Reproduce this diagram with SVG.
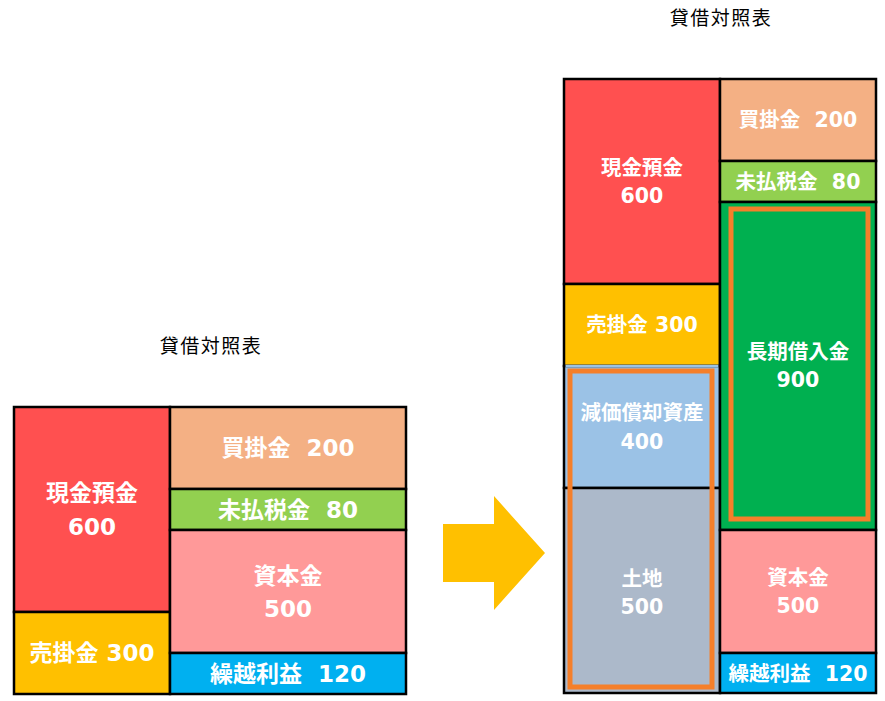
<svg xmlns="http://www.w3.org/2000/svg" width="885" height="701" viewBox="0 0 885 701">
<style>
.cell{stroke:#000;stroke-width:2.5}
.t{font-family:"DejaVu Sans","Noto Sans CJK JP",sans-serif;font-weight:bold;fill:#fff;text-anchor:middle;white-space:pre}
.big{font-size:23px}
.sm{font-size:20.5px}
.title{font-family:"Noto Sans CJK JP",sans-serif;font-size:19px;letter-spacing:1.5px;fill:#000;text-anchor:middle}
.hl{fill:none;stroke:#F57F2A;stroke-width:5}
</style>
<rect width="885" height="701" fill="#fff"/>
<text class="title" x="211" y="353">貸借対照表</text>
<text class="title" x="721" y="25">貸借対照表</text>

<!-- Left balance sheet -->
<g id="L-genkin"><rect class="cell" x="14" y="407" width="156" height="205" fill="#FF5050"/><text class="t big" x="92" y="501">現金預金</text><text class="t big" x="92" y="535">600</text></g>
<g id="L-urikake"><rect class="cell" x="14" y="612" width="156" height="82" fill="#FFC000"/><text class="t big" x="92" y="661">売掛金 300</text></g>
<g id="L-kaikake"><rect class="cell" x="170" y="407" width="236" height="82" fill="#F4B084"/><text class="t big" x="288" y="456">買掛金  200</text></g>
<g id="L-mibarai"><rect class="cell" x="170" y="489" width="236" height="41" fill="#92D050"/><text class="t big" x="288" y="518">未払税金  80</text></g>
<g id="L-shihon"><rect class="cell" x="170" y="530" width="236" height="123" fill="#FF9999"/><text class="t big" x="288" y="584">資本金</text><text class="t big" x="288" y="617">500</text></g>
<g id="L-kurikoshi"><rect class="cell" x="170" y="653" width="236" height="41" fill="#00B0F0"/><text class="t big" x="288" y="682">繰越利益  120</text></g>

<!-- Arrow -->
<g id="arrow"><polygon points="443,524 494,524 494,496 545,553 494,610 494,582 443,582" fill="#FFC000"/></g>

<!-- Right balance sheet -->
<g id="R-genkin"><rect class="cell" x="564" y="79" width="156" height="205" fill="#FF5050"/><text class="t sm" x="642" y="175">現金預金</text><text class="t sm" x="642" y="203">600</text></g>
<g id="R-urikake"><rect class="cell" x="564" y="284" width="156" height="82" fill="#FFC000"/><text class="t sm" x="642" y="332">売掛金 300</text></g>
<g id="R-genka"><rect class="cell" x="564" y="366" width="156" height="122" fill="#9BC2E6"/><line x1="565.5" y1="366" x2="718.5" y2="366" stroke="#9BC2E6" stroke-width="2.5"/><text class="t sm" x="642" y="420">減価償却資産</text><text class="t sm" x="642" y="449">400</text></g>
<g id="R-tochi"><rect class="cell" x="564" y="488" width="156" height="205" fill="#ACB9CA"/><text class="t sm" x="642" y="586">土地</text><text class="t sm" x="642" y="614">500</text></g>
<g id="R-kaikake"><rect class="cell" x="720" y="79" width="156" height="82" fill="#F4B084"/><text class="t sm" x="798" y="127">買掛金  200</text></g>
<g id="R-mibarai"><rect class="cell" x="720" y="161" width="156" height="41" fill="#92D050"/><text class="t sm" x="798" y="189">未払税金  80</text></g>
<g id="R-choki"><rect class="cell" x="720" y="202" width="156" height="328" fill="#00B050"/><text class="t sm" x="798" y="359">長期借入金</text><text class="t sm" x="798" y="387">900</text></g>
<g id="R-shihon"><rect class="cell" x="720" y="530" width="156" height="123" fill="#FF9999"/><text class="t sm" x="798" y="585">資本金</text><text class="t sm" x="798" y="613">500</text></g>
<g id="R-kurikoshi"><rect class="cell" x="720" y="653" width="156" height="40" fill="#00B0F0"/><text class="t sm" x="798" y="681">繰越利益  120</text></g>

<g id="highlights">
<rect class="hl" x="570" y="371" width="142" height="316"/>
<rect class="hl" x="731" y="209" width="137" height="310"/>
</g>
</svg>
